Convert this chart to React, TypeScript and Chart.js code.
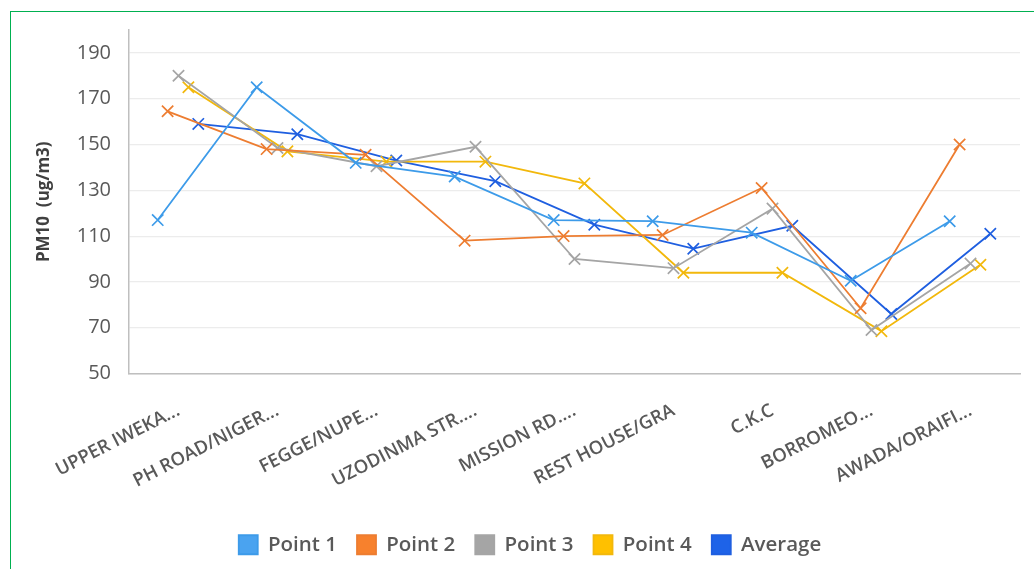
import React, { useEffect, useRef } from "react";
import { Chart, registerables } from "chart.js";

Chart.register(...registerables);

const categories = [
  "UPPER IWEKA...",
  "PH ROAD/NIGER...",
  "FEGGE/NUPE...",
  "UZODINMA STR....",
  "MISSION RD....",
  "REST HOUSE/GRA",
  "C.K.C",
  "BORROMEO...",
  "AWADA/ORAIFI...",
];

const seriesNames = ["Point 1", "Point 2", "Point 3", "Point 4", "Average"];
const point1 = [117, 175, 142, 136, 117, 116.5, 111.5, 90.5, 116.5];
const point2 = [164.5, 148, 145.5, 108, 110, 110.5, 131, 78.5, 150];
const point3 = [180, 148.5, 140.5, 149, 100, 96, 122, 69, 98];
const point4 = [175, 147, 142.5, 142.5, 133, 94, 94, 68.5, 97.5];
const average = [159, 154.5, 143, 134, 115, 104.5, 114.5, 76, 111];

const yTickLabels = [50, 70, 90, 110, 130, 150, 170, 190];

const lineColors = ["#3d9be9", "#ed7d31", "#a5a5a5", "#f2b80c", "#1f5fe0"];
const boxColors = ["#4aa3f0", "#f7812d", "#a5a5a5", "#ffc000", "#1e63e8"];
const seriesOffsets = [-0.21, -0.11, 0, 0.1, 0.2];

const yMin = 50;
const yMax = 200;

const FONT = "'Open Sans', 'DejaVu Sans', sans-serif";

export default function App() {
  const ref = useRef<HTMLCanvasElement | null>(null);

  useEffect(() => {
    if (!ref.current) return;
    const all = [point1, point2, point3, point4, average];
    const chart = new Chart(ref.current, {
      type: "line",
      data: {
        datasets: all.map((vals, s) => ({
          label: seriesNames[s],
          data: vals.map((v, i) => ({ x: i + 0.5 + seriesOffsets[s], y: v })),
          borderColor: lineColors[s],
          backgroundColor: boxColors[s],
          borderWidth: 1.8,
          pointStyle: "crossRot",
          pointRadius: 8,
          pointBorderWidth: 1.7,
          pointBorderColor: lineColors[s],
          tension: 0,
        })),
      },
      options: {
        animation: false,
        responsive: false,
        devicePixelRatio: 1,
        layout: { padding: { left: 40, right: 14, top: 27, bottom: 4 } },
        plugins: {
          tooltip: { enabled: false },
          legend: {
            position: "bottom",
            labels: {
              boxWidth: 19,
              boxHeight: 19,
              padding: 20,
              color: "#595959",
              font: { family: FONT, size: 20.5, weight: "600" },
            },
          },
        },
        scales: {
          x: {
            type: "linear",
            min: 0,
            max: categories.length,
            afterBuildTicks: (axis: any) => {
              axis.ticks = categories.map((_, i) => ({ value: i + 0.5 }));
            },
            afterFit: (axis: any) => {
              axis.height = 141;
            },
            grid: { display: false, drawTicks: false },
            border: { display: true, color: "#bfbfbf", width: 1.5 },
            ticks: {
              autoSkip: false,
              minRotation: 27,
              maxRotation: 27,
              padding: 26,
              color: "#595959",
              font: { family: FONT, size: 18.5, weight: "600" },
              callback: (_v: any, i: number) => categories[i],
            },
          },
          y: {
            min: yMin,
            max: yMax,
            afterBuildTicks: (axis: any) => {
              axis.ticks = yTickLabels.map((v) => ({ value: v }));
            },
            afterFit: (axis: any) => {
              axis.width = 89;
            },
            grid: { color: "#ececec", lineWidth: 1.2, drawTicks: false },
            border: { display: true, color: "#bfbfbf", width: 1.5 },
            ticks: {
              padding: 18,
              color: "#595959",
              font: { family: FONT, size: 20 },
            },
            title: {
              display: true,
              text: "PM10  (ug/m3)",
              color: "#404040",
              font: { family: FONT, size: 17, weight: "bold" },
              padding: { top: -6, bottom: 0 },
            },
          },
        },
      },
    });
    return () => chart.destroy();
  }, []);

  return (
    <div style={{ position: "fixed", left: 0, top: 0, width: 1034, height: 569, background: "#fff" }}>
      <div
        style={{
          position: "absolute",
          left: 10,
          top: 11,
          width: 1030,
          height: 565,
          borderLeft: "1.5px solid #00b050",
          borderTop: "1.5px solid #00b050",
        }}
      />
      <canvas ref={ref} width={1034} height={569} style={{ position: "absolute", left: 0, top: 0 }} />
    </div>
  );
}
